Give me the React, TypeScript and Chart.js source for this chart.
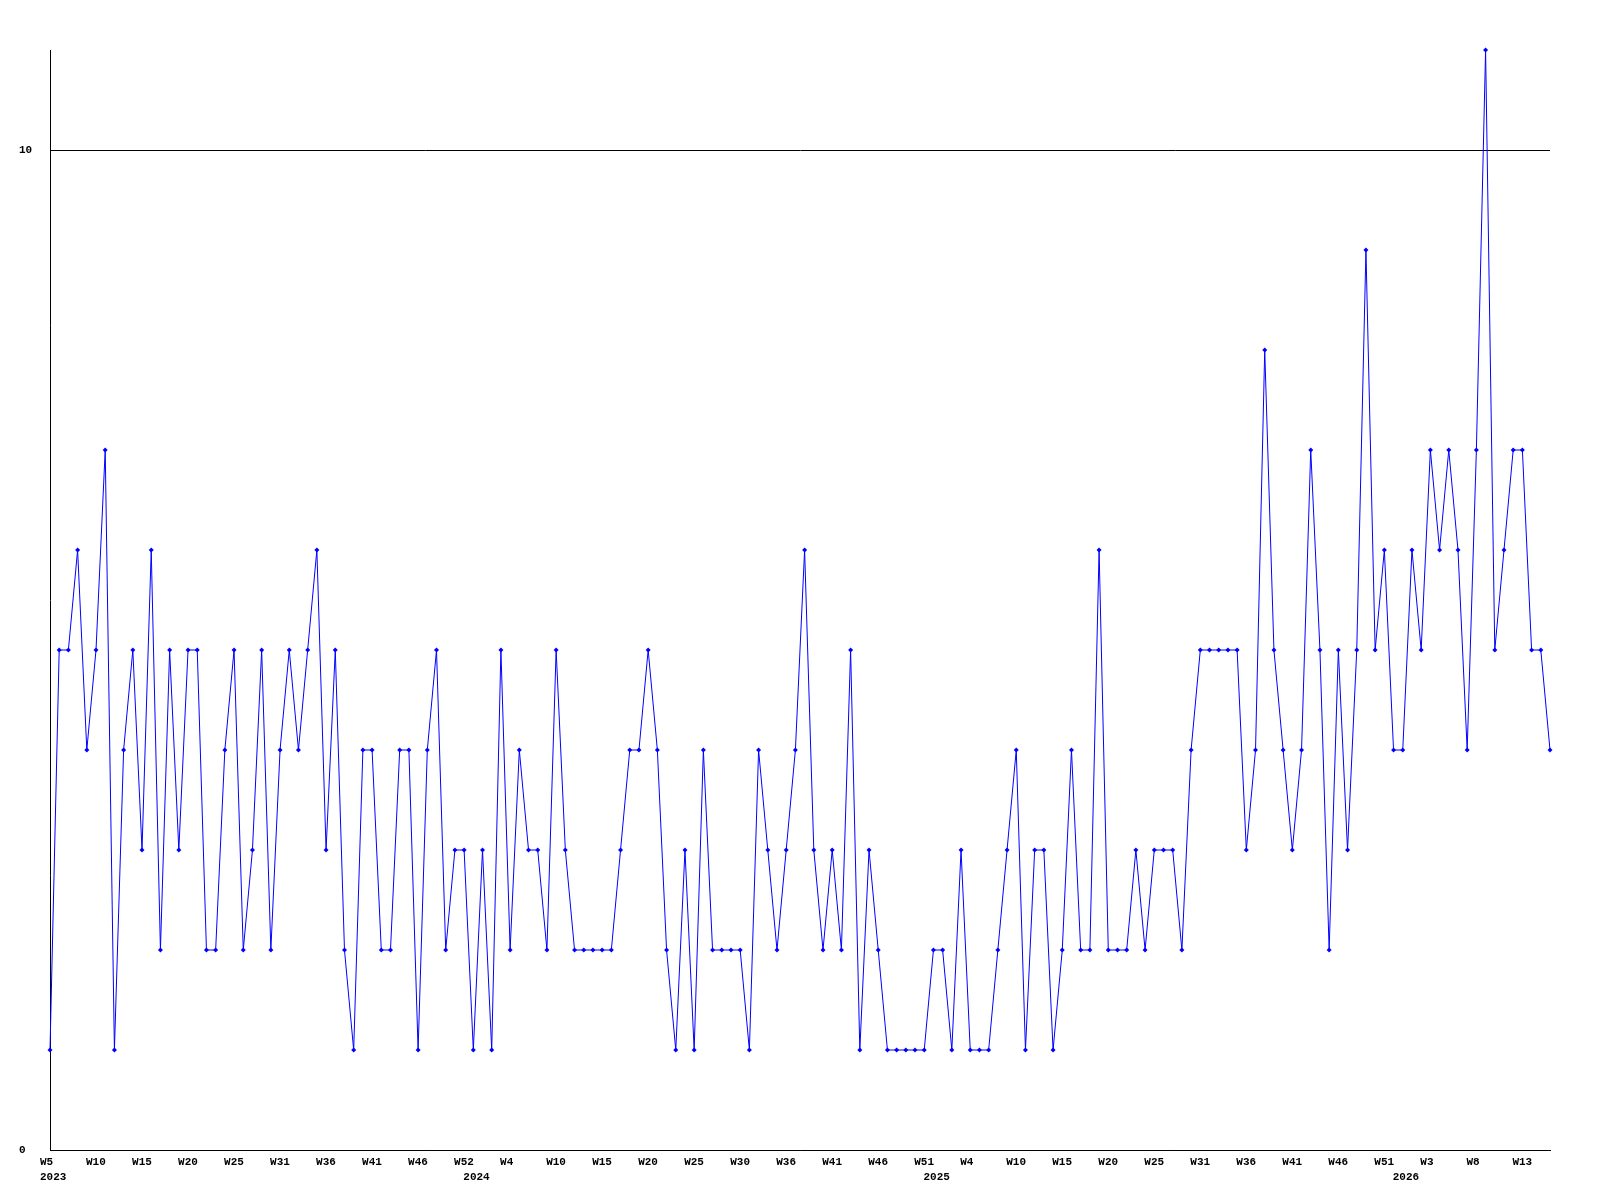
import React, { useEffect, useRef } from "react";
import { Chart, registerables } from "chart.js";

Chart.register(...registerables);

// Weekly values, starting 2023 W5 (one value per sample)
const values: number[] = [
  1, 5, 5, 6, 4, 5, 7, 1, 4, 5, 3, 6, 2, 5, 3, 5, 5, 2, 2, 4, 5, 2, 3, 5, 2, 4, 5, 4, 5, 6, 3, 5, 2, 1, 4, 4, 2, 2, 4, 4, 1, 4, 5,
  2, 3, 3, 1, 3, 1, 5, 2, 4, 3, 3, 2, 5, 3, 2, 2, 2, 2, 2, 3, 4, 4, 5, 4, 2, 1, 3, 1, 4, 2, 2, 2, 2, 1, 4, 3, 2, 3, 4,
  6, 3, 2, 3, 2, 5, 1, 3, 2, 1, 1, 1, 1, 1, 2, 2, 1, 3, 1, 1, 1, 2, 3, 4, 1, 3, 3, 1, 2, 4, 2, 2, 6, 2, 2, 2, 3, 2, 3, 3, 3, 2,
  4, 5, 5, 5, 5, 5, 3, 4, 8, 5, 4, 3, 4, 7, 5, 2, 5, 3, 5, 9, 5, 6, 4, 4, 6, 5, 7, 6, 7, 6, 4, 7, 11, 5, 6, 7, 7, 5, 5, 4,
];

// Week labels shown on every 5th sample
const weekLabels: string[] = [
  "W5", "W10", "W15", "W20", "W25", "W31", "W36", "W41", "W46", "W52",
  "W4", "W10", "W15", "W20", "W25", "W30", "W36", "W41", "W46", "W51",
  "W4", "W10", "W15", "W20", "W25", "W31", "W36", "W41", "W46", "W51",
  "W3", "W8", "W13",
];
const weekLabelEvery = 5;

// Year labels and the sample index where each year starts
const yearLabels: string[] = ["2023", "2024", "2025", "2026"];
const yearStarts: number[] = [0, 46, 96, 147];

// Y axis ticks
const yTicks: number[] = [0, 10];
const yMax = 11;

const FONT = { family: "'Liberation Mono', 'DejaVu Sans Mono', monospace", size: 11, weight: "bold" as const, lineHeight: 15 / 11 };

export default function App() {
  const canvasRef = useRef<HTMLCanvasElement | null>(null);

  useEffect(() => {
    document.body.style.margin = "0";
    const canvas = canvasRef.current;
    if (!canvas) return;

    const labelMap = new Map<number, string[]>();
    weekLabels.forEach((w, i) => {
      labelMap.set(i * weekLabelEvery, [w, ""]);
    });
    yearLabels.forEach((y, i) => {
      const pos = yearStarts[i];
      const existing = labelMap.get(pos);
      if (existing) existing[1] = y;
      else labelMap.set(pos, ["", y]);
    });
    const xTickValues = Array.from(labelMap.keys()).sort((a, b) => a - b);

    const chart = new Chart(canvas, {
      type: "line",
      data: {
        datasets: [
          {
            data: values.map((v, i) => ({ x: i, y: v })),
            borderColor: "#0000ff",
            backgroundColor: "#0000ff",
            borderWidth: 1,
            pointStyle: "rectRot",
            pointRadius: 2.5,
            pointBorderWidth: 0,
            pointBackgroundColor: "#0000ff",
            tension: 0,
            fill: false,
            clip: false,
          },
        ],
      },
      options: {
        responsive: false,
        animation: false,
        layout: { padding: { left: 19, top: 50, right: 50, bottom: 0 } },
        plugins: { legend: { display: false }, tooltip: { enabled: false } },
        scales: {
          x: {
            type: "linear",
            min: 0,
            max: values.length - 1,
            grid: { display: false, drawTicks: false },
            border: { display: true, color: "#000000", width: 1 },
            afterBuildTicks: (scale: any) => {
              scale.ticks = xTickValues.map((v) => ({ value: v }));
            },
            afterFit: (scale: any) => {
              scale.height = 50;
            },
            ticks: {
              autoSkip: false,
              maxRotation: 0,
              minRotation: 0,
              align: "start",
              labelOffset: -10,
              padding: 5,
              color: "#000000",
              font: FONT,
              callback: (value: any) => {
                const l = labelMap.get(Number(value));
                return l ? l : "";
              },
            },
          },
          y: {
            type: "linear",
            min: 0,
            max: yMax,
            grid: { display: true, drawTicks: false, color: "#000000", lineWidth: 1 },
            border: { display: true, color: "#000000", width: 1 },
            afterBuildTicks: (scale: any) => {
              scale.ticks = yTicks.map((v) => ({ value: v }));
            },
            afterFit: (scale: any) => {
              scale.width = 31;
            },
            ticks: {
              crossAlign: "far",
              color: "#000000",
              font: FONT,
              callback: (value: any) => String(value),
            },
          },
        },
      },
    });

    return () => {
      chart.destroy();
    };
  }, []);

  return (
    <div style={{ width: 1600, height: 1200, background: "#ffffff" }}>
      <canvas ref={canvasRef} width={1600} height={1200} />
    </div>
  );
}
